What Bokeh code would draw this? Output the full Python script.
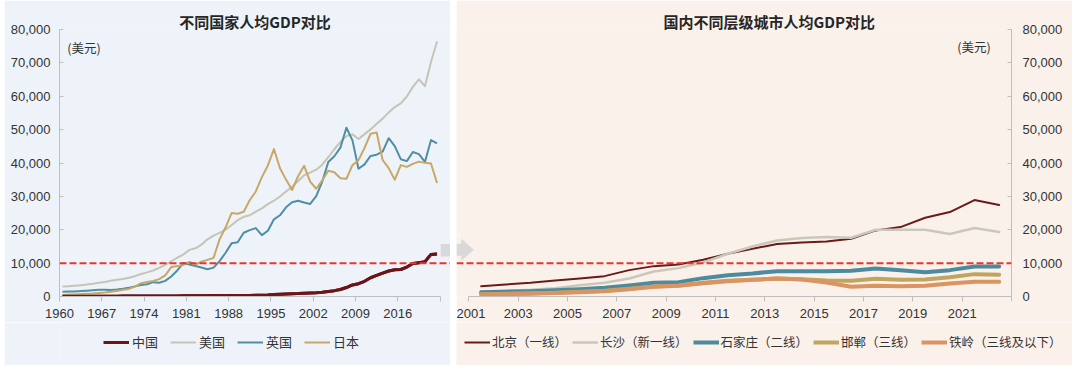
from bokeh.plotting import figure
from bokeh.layouts import row, column
from bokeh.models import (Range1d, Span, Label, Legend, LegendItem, FixedTicker,
                          NumeralTickFormatter, BoxAnnotation, PolyAnnotation)
from bokeh.embed import file_html
from bokeh.resources import INLINE

# ---------------- data: left chart (GDP per capita, current US$) ----------------
years = list(range(1960, 2023))
china = [90, 76, 70, 74, 85, 98, 104, 97, 91, 100, 113, 119, 132, 157, 160, 178, 165, 185, 156, 184,
         195, 197, 203, 225, 251, 294, 282, 252, 284, 311, 318, 333, 366, 377, 473, 610, 709, 782, 829, 873,
         959, 1053, 1149, 1289, 1509, 1753, 2099, 2694, 3468, 3832, 4550, 5614, 6301, 7020, 7636, 8016, 8094,
         8817, 9905, 10144, 10409, 12618, 12720]
usa = [3007, 3067, 3244, 3375, 3574, 3828, 4146, 4336, 4696, 5032, 5234, 5609, 6094, 6726, 7226, 7801, 8592,
       9453, 10565, 11674, 12575, 13976, 14434, 15544, 17121, 18237, 19071, 20039, 21417, 22857, 23889, 24342,
       25419, 26387, 27695, 28691, 29968, 31459, 32854, 34515, 36330, 37134, 37998, 39490, 41725, 44123, 46302,
       48050, 48570, 47195, 48651, 50066, 51784, 53291, 55124, 56763, 57867, 59915, 62805, 65095, 63028, 70249,
       76399]
uk = [1398, 1472, 1526, 1613, 1748, 1874, 1987, 2058, 1952, 2100, 2348, 2650, 3030, 3426, 3666, 4300, 4138,
      4681, 5977, 7804, 10032, 9599, 9146, 8691, 8179, 8652, 10611, 13119, 15987, 16239, 19095, 19901, 20487,
      18389, 19709, 23123, 24332, 26734, 28214, 28669, 28150, 27744, 30057, 34419, 40290, 42030, 44599, 50566,
      46767, 38262, 39599, 42110, 42498, 43426, 47440, 45071, 41146, 40572, 43307, 42663, 40318, 46870, 45850]
japan = [475, 564, 633, 718, 835, 919, 1059, 1229, 1450, 1669, 2037, 2272, 2967, 3997, 4354, 4659, 5198, 6335,
         8821, 9105, 9463, 10361, 9578, 10425, 10984, 11585, 17112, 20745, 25052, 24813, 25371, 28925, 31465,
         35766, 39269, 44198, 38437, 35022, 31903, 36026, 39169, 34406, 32289, 34808, 37688, 37218, 35434, 35275,
         39339, 40855, 44508, 48760, 49145, 40898, 38475, 34961, 39375, 38834, 39751, 40416, 40041, 39827, 34017]
left_names = ["中国", "美国", "英国", "日本"]
left_ticks = [1960, 1967, 1974, 1981, 1988, 1995, 2002, 2009, 2016, 2023]

# ---------------- data: right chart (city GDP per capita, US$) ----------------
city_years = list(range(2001, 2023))
beijing = [3100, 3600, 4100, 4800, 5400, 6100, 7900, 9100, 9600, 11000, 12800, 14300, 15700, 16200, 16500,
           17300, 19800, 20800, 23600, 25300, 28900, 27400]
changsha = [1500, 1700, 2000, 2500, 3400, 4100, 5400, 7500, 8500, 10200, 12800, 15000, 16800, 17500, 17800,
            17600, 20000, 20000, 20000, 18700, 20500, 19300]
shijiazhuang = [1300, 1450, 1600, 1900, 2200, 2600, 3300, 4100, 4300, 5500, 6400, 6900, 7600, 7600, 7600,
                7700, 8400, 7900, 7300, 7900, 9000, 9000]
handan = [700, 800, 950, 1150, 1400, 1700, 2300, 3000, 3300, 4100, 4700, 5000, 5400, 5200, 4800, 4700, 5300,
          5000, 5100, 5800, 6700, 6500]
tieling = [600, 700, 850, 1050, 1300, 1600, 2200, 2900, 3200, 4000, 4600, 5000, 5400, 5100, 4200, 2900, 3200,
           3100, 3200, 3900, 4400, 4400]
right_names = ["北京（一线）", "长沙（新一线）", "石家庄（二线）", "邯郸（三线）", "铁岭（三线及以下）"]
right_ticks = list(range(2001, 2024, 2))
y_ticks = list(range(0, 80001, 10000))
threshold = 10000

# ---------------- styles ----------------
BG_L = "#EEF3FA"
BG_R = "#FAF1EB"
AX = "#BFBFBF"
TXT = "#333333"
LAT = "Liberation Sans"
CJK = "Noto Sans CJK SC"
left_styles = [("#6B1518", 3), ("#C5C4B6", 2), ("#4F8EA3", 2), ("#C8A767", 2)]
right_styles = [("#6B1A1A", 2), ("#C9C8BA", 2.5), ("#4C8A9E", 4), ("#BFA560", 4), ("#D99462", 4)]


def style_axes(p, xticks, yaxis, ystandoff):
    p.xgrid.visible = False
    p.ygrid.visible = False
    for ax in p.xaxis:
        ax.ticker = FixedTicker(ticks=xticks)
        ax.major_label_overrides = {xticks[-1]: ""}
        ax.bounds = (xticks[0], xticks[-1])
        ax.axis_line_color = AX
        ax.major_tick_line_color = AX
        ax.minor_tick_line_color = None
        ax.major_tick_out = 5
        ax.major_tick_in = 0
        ax.major_label_standoff = 7
        ax.major_label_text_font = LAT
        ax.major_label_text_font_size = "13px"
        ax.major_label_text_color = TXT
    yaxis.ticker = FixedTicker(ticks=y_ticks)
    yaxis.formatter = NumeralTickFormatter(format="0,0")
    yaxis.axis_line_color = AX
    yaxis.major_tick_line_color = AX
    yaxis.minor_tick_line_color = None
    yaxis.major_tick_out = 0
    yaxis.major_tick_in = 4
    yaxis.major_label_standoff = ystandoff
    yaxis.major_label_text_font = LAT
    yaxis.major_label_text_font_size = "13px"
    yaxis.major_label_text_color = TXT


def style_title(p):
    p.title.text_font = CJK
    p.title.text_font_size = "15px"
    p.title.text_font_style = "bold"
    p.title.text_color = "#262626"
    p.title.standoff = -4


def legend_fig(width, bg, names, styles, xs, series, loc, font_size, standoff, spacing):
    # a strip under each chart that holds its legend; the series sit outside its (0..1) view
    f = figure(frame_width=width, frame_height=43, x_range=Range1d(0, 1), y_range=Range1d(0, 1),
               output_backend="svg", toolbar_location=None, x_axis_type=None, y_axis_type=None,
               min_border=0, background_fill_color=bg, border_fill_color=bg, outline_line_color=None)
    f.grid.visible = False
    rs = [f.line(xs, vals, line_color=c, line_width=w) for vals, (c, w) in zip(series, styles)]
    leg = Legend(items=[LegendItem(label=n, renderers=[r]) for n, r in zip(names, rs)],
                 orientation="horizontal", location=loc, glyph_width=26, glyph_height=16,
                 label_height=16, label_standoff=standoff, spacing=spacing, padding=0, margin=0,
                 border_line_alpha=0, background_fill_alpha=0,
                 label_text_font=CJK, label_text_font_size=font_size, label_text_color=TXT)
    f.add_layout(leg)
    return f


# ---------------- left figure ----------------
p1 = figure(frame_width=391, frame_height=267,
            x_range=Range1d(1960, 2024.73), y_range=Range1d(0, 80000),
            output_backend="svg", toolbar_location=None,
            min_border_left=55, min_border_right=0, min_border_top=29, min_border_bottom=26,
            background_fill_color=BG_L, border_fill_color=BG_L, outline_line_color=None,
            title="不同国家人均GDP对比")
p1.title.align = "center"
style_title(p1)
style_axes(p1, left_ticks, p1.yaxis[0], 9)

xl = [y + 0.5 for y in years]
left_series = [china, usa, uk, japan]
p1.add_layout(Span(location=threshold, dimension="width", line_color="#E8352D",
                   line_dash="7 3", line_width=2))
for vals, (col, w) in zip(left_series, left_styles):
    p1.line(xl, vals, line_color=col, line_width=w, line_join="round")
# China drawn again on top of the others
p1.line(xl, china, line_color=left_styles[0][0], line_width=left_styles[0][1], line_join="round")
p1.add_layout(Label(x=1961.3, y=74500, text="(美元)", text_baseline="middle",
                    text_font=CJK, text_font_size="12.5px", text_color=TXT))
# decorative arrow (left part)
p1.add_layout(BoxAnnotation(left=2023.1, top=15700, bottom=12000, fill_color="#D9D9D9",
                            fill_alpha=1, line_color=None))
lg1 = legend_fig(446, BG_L, left_names, left_styles, xl, left_series, (99, 14), "13px", 3, 12)

# ---------------- right figure ----------------
p2 = figure(frame_width=555, frame_height=267,
            x_range=Range1d(2000.5, 2023), y_range=Range1d(0, 80000),
            output_backend="svg", toolbar_location=None, y_axis_location="right",
            min_border_left=0, min_border_right=61, min_border_top=29, min_border_bottom=26,
            background_fill_color=BG_R, border_fill_color=BG_R, outline_line_color=None,
            title="国内不同层级城市人均GDP对比")
p2.title.align = "left"
p2.title.offset = 207
style_title(p2)
style_axes(p2, right_ticks, p2.yaxis[0], 11)

xr = [y + 0.5 for y in city_years]
right_series = [beijing, changsha, shijiazhuang, handan, tieling]
p2.add_layout(Span(location=threshold, dimension="width", line_color="#E8352D",
                   line_dash="7 3", line_width=2))
for vals, (col, w) in zip(right_series, right_styles):
    p2.line(xr, vals, line_color=col, line_width=w, line_join="round", line_cap="round")
p2.add_layout(Label(x=2020.8, y=75000, text="(美元)", text_baseline="middle",
                    text_font=CJK, text_font_size="12.5px", text_color=TXT))
# decorative arrow (right part)
p2.add_layout(PolyAnnotation(xs=[2000.5, 2000.69, 2000.69, 2001.21, 2000.69, 2000.69, 2000.5],
                             ys=[15800, 15800, 17300, 14000, 10700, 12200, 12200],
                             fill_color="#D9D9D9", fill_alpha=1, line_color=None))
lg2 = legend_fig(616, BG_R, right_names, right_styles, xr, right_series, (8, 14), "12.5px", 2, 5)

layout = row(column(p1, lg1, spacing=0), column(p2, lg2, spacing=0), spacing=6, margin=(0, 0, 0, 4))
open("out.html", "w").write(file_html(layout, INLINE))
